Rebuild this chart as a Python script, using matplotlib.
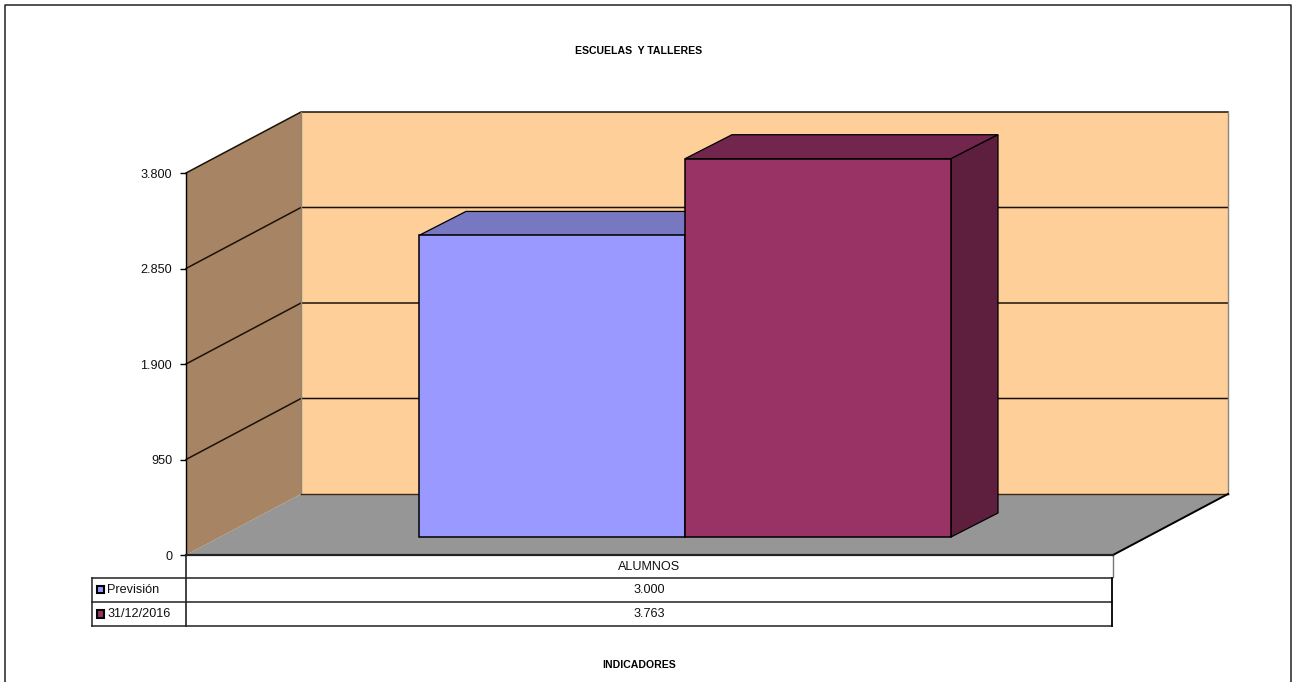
#!/usr/bin/env python
# coding: utf-8

import matplotlib
matplotlib.use('Agg')
import matplotlib.pyplot as plt
from matplotlib.patches import Polygon, Rectangle

title = 'ESCUELAS  Y TALLERES'
xlabel = 'INDICADORES'
category = 'ALUMNOS'
series = ['Previsión', '31/12/2016']
values = [3000, 3763]
value_labels = ['3.000', '3.763']
yticks = [0, 950, 1900, 2850, 3800]
ytick_labels = ['0', '950', '1.900', '2.850', '3.800']
front_colors = ['#9999FF', '#993366']
top_colors = ['#7777C2', '#73264D']
side_colors = ['#5E5E9E', '#5E1F3F']

W, H = 1292, 682
plt.rcParams['font.family'] = ['Liberation Sans', 'DejaVu Sans']

fig = plt.figure(figsize=(W / 100, H / 100), dpi=100)

# page axes in pixels, for the frame, table and captions
page = fig.add_axes([0, 0, 1, 1])
page.set_xlim(0, W)
page.set_ylim(H, 0)
page.axis('off')
page.plot([4.5, 4.5, 1291, 1291], [H, 5, 5, H], color='#222222', lw=1.1)
page.text(639, 51, title, ha='center', va='center', fontsize=7.6, fontweight='bold')
page.text(639, 665, xlabel, ha='center', va='center', fontsize=7.6, fontweight='bold')

# front plane of the 3d box: x in pixels, y in chart units
L, R, TOP, BOTTOM = 186, 1113, 173, 555
ax = fig.add_axes([L / W, 1 - BOTTOM / H, (R - L) / W, (BOTTOM - TOP) / H])
ax.set_xlim(0, R - L)
ax.set_ylim(yticks[0], yticks[-1])
ax.patch.set_visible(False)
for s in ['top', 'right', 'bottom']:
    ax.spines[s].set_visible(False)
ax.spines['left'].set_color('black')
ax.spines['left'].set_linewidth(1.0)
ax.set_xticks([])
ax.set_yticks(yticks)
ax.set_yticklabels(ytick_labels, fontsize=9.1, color='#111111')
ax.tick_params(axis='y', length=4, width=1, pad=6)

unit = yticks[-1] / (BOTTOM - TOP)  # chart units per pixel
DX, DY = 115, 61 * unit             # depth of the box
ymax = yticks[-1]
W_BACK = R - L

# floor, walls
ax.add_patch(Polygon([(0, 0), (DX, DY), (W_BACK + DX, DY), (W_BACK, 0)],
                     fc='#969696', ec='none', clip_on=False, zorder=1))
ax.add_patch(Polygon([(0, 0), (DX, DY), (DX, ymax + DY), (0, ymax)],
                     fc='#A68464', ec='none', clip_on=False, zorder=1))
ax.add_patch(Polygon([(DX, DY), (W_BACK + DX, DY), (W_BACK + DX, ymax + DY), (DX, ymax + DY)],
                     fc='#FFCF99', ec='none', clip_on=False, zorder=1))

# gridlines run along the side wall and back wall
for t in yticks[1:]:
    ax.plot([0, DX, W_BACK + DX], [t, t + DY, t + DY], color='#1A1208', lw=1.1,
            clip_on=False, zorder=2)
ax.plot([DX, DX], [DY, ymax + DY], color='#8F8578', lw=1, clip_on=False, zorder=2)
ax.plot([W_BACK + DX, W_BACK + DX], [DY, ymax + DY], color='#8F8578', lw=1, clip_on=False, zorder=2)
ax.plot([DX, W_BACK + DX], [DY, DY], color='#3A2A18', lw=1, clip_on=False, zorder=2)
ax.plot([0, W_BACK], [0, 0], color='#222222', lw=1.6, clip_on=False, zorder=3)
ax.plot([W_BACK, W_BACK + DX], [0, DY], color='black', lw=1.4, clip_on=False, zorder=2)

# bars sit part way into the box
BAR_X0, BAR_W = 233, 266
BAR_OX, BAR_OY = 47, 24 * unit
BASE = 18 * unit
for i, v in enumerate(values):
    x0 = BAR_X0 + i * BAR_W
    x1 = x0 + BAR_W
    y1 = BASE + v
    z = 4 + i
    ax.add_patch(Polygon([(x0, y1), (x0 + BAR_OX, y1 + BAR_OY), (x1 + BAR_OX, y1 + BAR_OY), (x1, y1)],
                         fc=top_colors[i], ec='black', lw=0.9, clip_on=False, zorder=z))
    ax.add_patch(Polygon([(x1, BASE), (x1 + BAR_OX, BASE + BAR_OY), (x1 + BAR_OX, y1 + BAR_OY), (x1, y1)],
                         fc=side_colors[i], ec='black', lw=0.9, clip_on=False, zorder=z))
    ax.add_patch(Rectangle((x0, BASE), BAR_W, v, fc=front_colors[i], ec='black', lw=1.1,
                           clip_on=False, zorder=z))

# data table under the chart
rows = [577.5, 602, 626]
TL, TM, TR = 92, L, 1112
page.plot([TM, TM], [555, rows[-1]], color='#222222', lw=1.2)
page.plot([TR + 0.5, TR + 0.5], [555, 577], color='#777777', lw=1)
page.plot([TL, TR], [rows[0], rows[0]], color='#222222', lw=1.1)
page.plot([TL, TR], [rows[1], rows[1]], color='#222222', lw=1.1)
page.plot([TL, TR], [rows[2], rows[2]], color='#222222', lw=1.1)
page.plot([TL, TL], [rows[0], rows[2]], color='#222222', lw=1.1)
page.plot([TR, TR], [rows[0], rows[2]], color='black', lw=1.3)
page.text((TM + TR) / 2, 567, category, ha='center', va='center', fontsize=9.1, color='#111111')
for i, name in enumerate(series):
    yc = (rows[i] + rows[i + 1]) / 2
    page.add_patch(Rectangle((96.5, yc - 4), 7.5, 7.5, fc=front_colors[i], ec='black', lw=1.5))
    page.text(107, yc, name, ha='left', va='center', fontsize=9.1, color='#111111')
    page.text((TM + TR) / 2, yc, value_labels[i], ha='center', va='center', fontsize=9.1, color='#111111')

fig.savefig('out.png', dpi=100, facecolor='white')
